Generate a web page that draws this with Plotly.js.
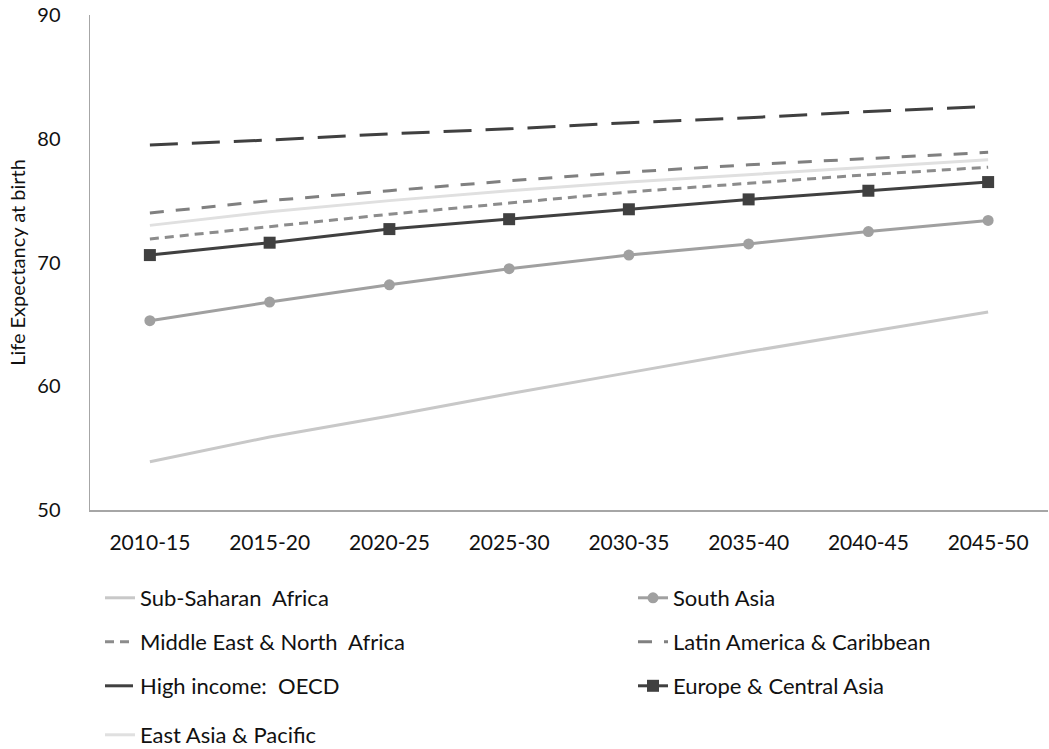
<!DOCTYPE html>
<html>
<head>
<meta charset="utf-8">
<script src="https://cdn.plot.ly/plotly-3.0.1.min.js"></script>
<style>html,body{margin:0;padding:0;background:#fff;}#chart{width:1049px;height:749px;}</style>
</head>
<body>
<div id="chart"></div>
<script>
const periods = ["2010-15","2015-20","2020-25","2025-30","2030-35","2035-40","2040-45","2045-50"];
const subSaharanAfrica = [53.9, 55.9, 57.6, 59.4, 61.1, 62.8, 64.4, 66.0];
const southAsia = [65.3, 66.8, 68.2, 69.5, 70.6, 71.5, 72.5, 73.4];
const middleEastNorthAfrica = [71.9, 72.9, 73.9, 74.8, 75.7, 76.4, 77.1, 77.7];
const latinAmericaCaribbean = [74.0, 75.0, 75.8, 76.6, 77.3, 77.9, 78.4, 78.9];
const highIncomeOECD = [79.5, 79.9, 80.4, 80.8, 81.3, 81.7, 82.2, 82.6];
const europeCentralAsia = [70.6, 71.6, 72.7, 73.5, 74.3, 75.1, 75.8, 76.5];
const eastAsiaPacific = [73.0, 74.1, 75.0, 75.8, 76.5, 77.1, 77.7, 78.3];

const FONT = "Lato, 'Open Sans', sans-serif";
const TXT = "#111111";

const traces = [
  {name:"Sub-Saharan  Africa", y: subSaharanAfrica, line:{color:"#c8c8c8", width:3}, mode:"lines", legend:"legend"},
  {name:"South Asia", y: southAsia, line:{color:"#a0a0a0", width:3}, mode:"lines+markers", marker:{symbol:"circle", size:11, color:"#a0a0a0"}, legend:"legend2"},
  {name:"Middle East & North  Africa", y: middleEastNorthAfrica, line:{color:"#8c8c8c", width:3, dash:"9px,6px"}, mode:"lines", legend:"legend3"},
  {name:"Latin America & Caribbean", y: latinAmericaCaribbean, line:{color:"#808080", width:3, dash:"14px,12px"}, mode:"lines", legend:"legend4"},
  {name:"High income:  OECD", y: highIncomeOECD, line:{color:"#404040", width:3, dash:"28px,14px"}, mode:"lines", legend:"legend5"},
  {name:"Europe & Central Asia", y: europeCentralAsia, line:{color:"#404040", width:3}, mode:"lines+markers", marker:{symbol:"square", size:12, color:"#404040"}, legend:"legend6"},
  {name:"East Asia & Pacific", y: eastAsiaPacific, line:{color:"#e0e0e0", width:3}, mode:"lines", legend:"legend7"}
].map(t => Object.assign({type:"scatter", x: periods}, t));

function lg(xpx, ypx){
  return {xref:"container", yref:"container", x: xpx/1049, y: 1 - ypx/749, xanchor:"left", yanchor:"middle",
    orientation:"h", font:{family:FONT, size:22, color:TXT}, bgcolor:"rgba(0,0,0,0)"};
}

const layout = {
  width:1049, height:749,
  margin:{l:90, r:1, t:15, b:239},
  paper_bgcolor:"#fff", plot_bgcolor:"#fff",
  font:{family:FONT, color:TXT},
  showlegend:true,
  xaxis:{type:"category", range:[-0.5, 7.5], showgrid:false, zeroline:false, showline:true, linecolor:"#a6a6a6", linewidth:1.5,
    ticks:"", tickfont:{family:FONT, size:21, color:TXT}, ticklabelstandoff:13},
  yaxis:{range:[50, 90], dtick:10, showgrid:false, zeroline:false, showline:true, linecolor:"#a6a6a6", linewidth:1.5,
    ticks:"", tickfont:{family:FONT, size:20, color:TXT}, ticklabelstandoff:24,
    title:{text:"Life Expectancy at birth", font:{family:FONT, size:20, color:TXT}, standoff:6}},
  legend: lg(100, 598),
  legend2: lg(633, 598),
  legend3: lg(100, 642),
  legend4: lg(633, 642),
  legend5: lg(100, 686),
  legend6: lg(633, 686),
  legend7: lg(100, 735)
};

Plotly.newPlot("chart", traces, layout, {displayModeBar:false, staticPlot:true});
</script>
</body>
</html>
